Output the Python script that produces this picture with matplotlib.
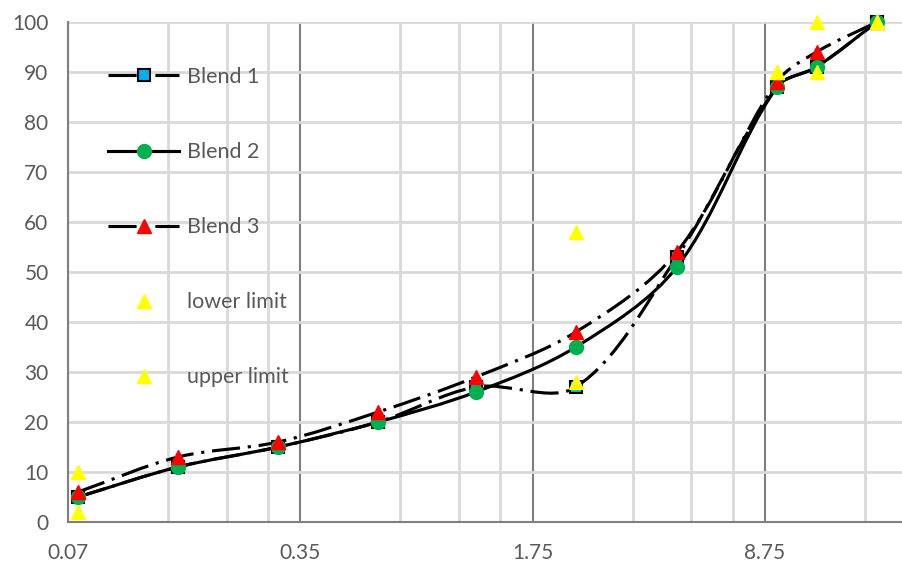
import numpy as np
import matplotlib
matplotlib.use('Agg')
import matplotlib.pyplot as plt
from matplotlib.path import Path
from matplotlib.patches import PathPatch
from matplotlib.lines import Line2D

plt.rcParams['font.family'] = ['Lato', 'DejaVu Sans']

# sieve sizes (mm) and percent passing
sizes = [0.075, 0.15, 0.3, 0.6, 1.18, 2.36, 4.75, 9.5, 12.5, 19]
blend1 = [5, 11, 15, 20, 27, 27, 53, 87, 91, 100]
blend2 = [5, 11, 15, 20, 26, 35, 51, 87, 91, 100]
blend3 = [6, 13, 16, 22, 29, 38, 54, 88, 94, 100]

limit_sizes = [0.075, 2.36, 9.5, 12.5, 19]
lower_limit = [2, 28, 90, 90, 100]
upper_limit = [10, 58, 90, 100, 100]

x_ticks = [0.07, 0.35, 1.75, 8.75]
x_ticklabels = ['0.07', '0.35', '1.75', '8.75']

grey_txt = '#595959'


def smooth_path(ax, xs, ys):
    # excel-like smoothed line, bezier controls worked out in screen space
    tr = ax.transData
    p = tr.transform(np.column_stack([xs, ys]))
    n = len(p)
    verts = [p[0]]
    codes = [Path.MOVETO]
    for i in range(n - 1):
        a = p[i - 1] if i > 0 else p[i]
        b = p[i]
        c = p[i + 1]
        d = p[i + 2] if i + 2 < n else p[i + 1]
        bc = np.hypot(*(c - b))
        ab = np.hypot(*(b - a))
        cd = np.hypot(*(d - c))
        f1 = bc / (ab + bc) / 3 if ab + bc > 0 else 0
        f2 = bc / (bc + cd) / 3 if bc + cd > 0 else 0
        verts += [b + (c - a) * f1, c - (d - b) * f2, c]
        codes += [Path.CURVE4] * 3
    verts = tr.inverted().transform(np.array(verts))
    return Path(verts, codes)


fig = plt.figure(figsize=(9.02, 5.64), dpi=100)
ax = fig.add_axes([68 / 902, 1 - 522 / 564, 1 - 68 / 902, 500 / 564])

ax.set_xscale('log', base=5)
ax.set_xticks(x_ticks)
ax.set_xticklabels(x_ticklabels)
minors = [t * m for t in x_ticks for m in (2, 3, 4)]
ax.set_xticks(minors, minor=True)
ax.xaxis.set_minor_formatter(plt.NullFormatter())
ax.set_yticks(range(0, 101, 10))
ax.set_xlim(0.07, 22.6)
ax.set_ylim(0, 100)

ax.grid(which='major', axis='x', color='#7f7f7f', lw=1.5)
ax.grid(which='minor', axis='x', color='#d9d9d9', lw=2)
ax.grid(which='major', axis='y', color='#d9d9d9', lw=2)
ax.set_axisbelow(True)

ax.tick_params(which='both', length=0)
ax.tick_params(axis='x', pad=15, labelsize=15, labelcolor=grey_txt)
ax.tick_params(axis='y', pad=14, labelsize=15, labelcolor=grey_txt)

for s in ['top', 'right']:
    ax.spines[s].set_visible(False)
ax.spines['left'].set_color('#7f7f7f')
ax.spines['bottom'].set_color('#7f7f7f')
ax.spines['left'].set_linewidth(1.5)
ax.spines['bottom'].set_linewidth(1.5)

dashdot = (0, (9, 2.5, 1, 2.5))

# lines
ax.add_patch(PathPatch(smooth_path(ax, sizes, blend1), fill=False, ec='black', lw=2.25, ls=dashdot, zorder=2))
ax.add_patch(PathPatch(smooth_path(ax, sizes, blend2), fill=False, ec='black', lw=2.25, zorder=2))
ax.add_patch(PathPatch(smooth_path(ax, sizes, blend3), fill=False, ec='black', lw=2.25, ls=dashdot, zorder=2))

# markers
ax.plot(sizes, blend1, ls='none', marker='s', ms=9, mfc='#00b0f0', mec='black', mew=1.5, zorder=3, clip_on=False)
ax.plot(sizes, blend2, ls='none', marker='o', ms=10, mfc='#00b050', mec='#00b050', zorder=3, clip_on=False)
ax.plot(sizes, blend3, ls='none', marker='^', ms=10, mfc='red', mec='red', zorder=3, clip_on=False)
ax.plot(limit_sizes, lower_limit, ls='none', marker='^', ms=10, mfc='yellow', mec='yellow', zorder=4, clip_on=False)
ax.plot(limit_sizes, upper_limit, ls='none', marker='^', ms=10, mfc='yellow', mec='yellow', zorder=4, clip_on=False)
ax.set_xlim(0.07, 22.6)
ax.set_ylim(0, 100)

handles = [
    Line2D([], [], color='black', lw=2.25, ls=dashdot, marker='s', ms=9, mfc='#00b0f0', mec='black', mew=1.5),
    Line2D([], [], color='black', lw=2.25, marker='o', ms=10, mfc='#00b050', mec='#00b050'),
    Line2D([], [], color='black', lw=2.25, ls=dashdot, marker='^', ms=10, mfc='red', mec='red'),
    Line2D([], [], ls='none', marker='^', ms=10, mfc='yellow', mec='yellow'),
    Line2D([], [], ls='none', marker='^', ms=10, mfc='yellow', mec='yellow'),
]
labels = ['Blend 1', 'Blend 2', 'Blend 3', 'lower limit', 'upper limit']
leg = ax.legend(handles, labels, loc='upper left', bbox_to_anchor=(108 / 902, 1 - 67 / 564),
                bbox_transform=fig.transFigure, frameon=False, fontsize=15.5, numpoints=1,
                handlelength=3.3, handletextpad=0.35, labelspacing=2.56, borderpad=0, borderaxespad=0)
for t in leg.get_texts():
    t.set_color(grey_txt)

fig.savefig('out.png', dpi=100)
